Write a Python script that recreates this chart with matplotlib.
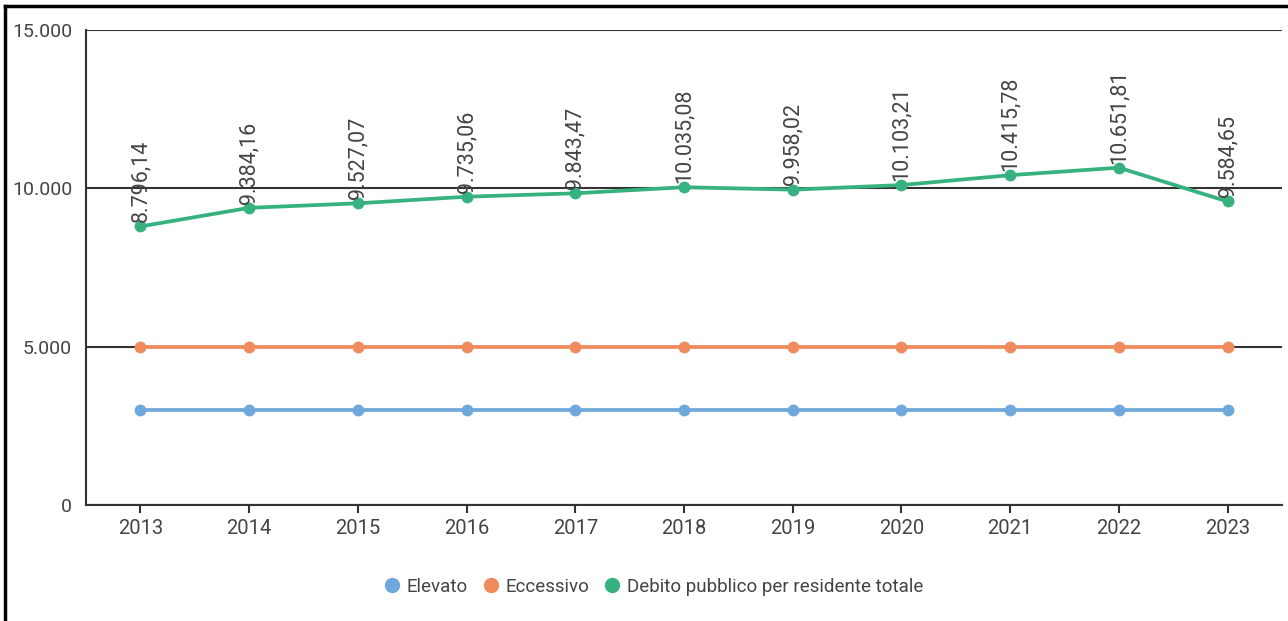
import matplotlib.pyplot as plt
from matplotlib.lines import Line2D
from matplotlib.ticker import FuncFormatter

# data
anni = ["2013", "2014", "2015", "2016", "2017", "2018", "2019", "2020", "2021", "2022", "2023"]
elevato = [3000] * 11
eccessivo = [5000] * 11
debito = [8796.14, 9384.16, 9527.07, 9735.06, 9843.47, 10035.08,
          9958.02, 10103.21, 10415.78, 10651.81, 9584.65]

etichette = ["Elevato", "Eccessivo", "Debito pubblico per residente totale"]
colori = ["#6fa8dc", "#ef8b5c", "#35b27f"]

plt.rcParams['font.family'] = ['Roboto', 'DejaVu Sans']
grigio = '#444444'


def fmt_it(v, dec=2):
    s = f"{v:,.{dec}f}"
    return s.replace(",", "X").replace(".", ",").replace("X", ".")


fig = plt.figure(figsize=(12.88, 6.21), dpi=100)
ax = fig.add_axes([86 / 1288, 1 - 505 / 621, (1282 - 86) / 1288, (505 - 30) / 621])

x = list(range(len(anni)))
for serie, c in zip([elevato, eccessivo, debito], colori):
    ax.plot(x, serie, color=c, lw=2.7, marker='o', ms=7.5, zorder=3)

for xi, v in zip(x, debito):
    ax.annotate(fmt_it(v), (xi, v), xytext=(0, 3), textcoords='offset points',
                rotation=90, ha='center', va='bottom', fontsize=15.5, color=grigio, zorder=4)

ax.set_xlim(-0.5, len(anni) - 0.5)
ax.set_ylim(0, 15000)
ax.set_yticks([0, 5000, 10000, 15000])
ax.yaxis.set_major_formatter(FuncFormatter(lambda v, p: fmt_it(v, 0)))
ax.set_xticks(x)
ax.set_xticklabels(anni)

ax.grid(axis='y', color='#333333', lw=1.5, zorder=1)
for s in ['top', 'right']:
    ax.spines[s].set_visible(False)
for s in ['left', 'bottom']:
    ax.spines[s].set_color('#333333')
    ax.spines[s].set_linewidth(1.5)
ax.tick_params(axis='y', length=0, pad=10, labelsize=14, labelcolor=grigio)
ax.tick_params(axis='x', length=6, width=1.5, color='#333333', pad=4, labelsize=14.5, labelcolor=grigio)
ax.set_axisbelow(True)

handles = [Line2D([], [], ls='', marker='o', ms=10, color=c) for c in colori]
fig.legend(handles, etichette, loc='center', bbox_to_anchor=(652 / 1288, 1 - 587 / 621),
           ncol=3, frameon=False, fontsize=13.5, labelcolor=grigio,
           handletextpad=0.2, columnspacing=0.6, handlelength=1.2)

# cornice dello screenshot
fig.add_artist(Line2D([5 / 1288, 5 / 1288], [0, 1 - 6 / 621], transform=fig.transFigure, color='black', lw=2.5))
fig.add_artist(Line2D([5 / 1288, 1], [1 - 6 / 621, 1 - 6 / 621], transform=fig.transFigure, color='black', lw=2.5))

fig.savefig("out.png", dpi=100)
